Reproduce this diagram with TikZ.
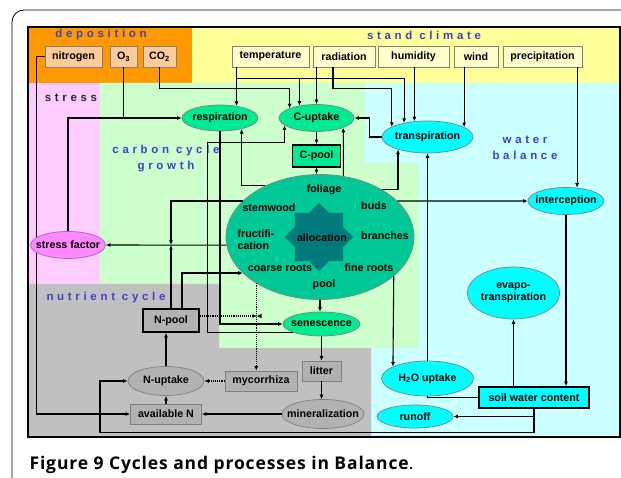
\documentclass[tikz,border=0pt]{standalone}
\usepackage{fontspec}
\setmainfont{Liberation Sans}
\newfontfamily\spacedfont[LetterSpace=32]{Liberation Sans}
\newfontfamily\captionfont[LetterSpace=5]{Open Sans}
\usetikzlibrary{arrows.meta, shapes.geometric}

\definecolor{depoorange}{RGB}{255,153,0}
\definecolor{depopeach}{RGB}{255,204,153}
\definecolor{climyellow}{RGB}{255,255,153}
\definecolor{climpale}{RGB}{255,255,204}
\definecolor{stressbg}{RGB}{255,204,255}
\definecolor{carbbg}{RGB}{204,255,204}
\definecolor{waterbg}{RGB}{204,255,255}
\definecolor{nutrbg}{RGB}{192,192,192}
\definecolor{procgreen}{RGB}{0,235,145}
\definecolor{growthgreen}{RGB}{0,200,150}
\definecolor{allocteal}{RGB}{0,122,122}
\definecolor{watercyan}{RGB}{0,255,255}
\definecolor{nutrgray}{RGB}{178,178,178}
\definecolor{stressmagenta}{RGB}{255,136,255}
\definecolor{stressline}{RGB}{160,100,200}
\definecolor{labelblue}{RGB}{64,64,200}
\definecolor{labeldark}{RGB}{40,40,50}
\definecolor{nodeborder}{RGB}{128,128,128}

\newcommand{\boxfont}{\fontsize{10.7}{12}\selectfont\bfseries}
\newcommand{\regionfont}{\spacedfont\fontsize{11.5}{16}\selectfont\bfseries}

\tikzset{%
  >={Latex[width=4pt,length=4.5pt]},
  % Specifications for style of nodes:
            base/.style = {draw=nodeborder, line width=0.7pt, font=\boxfont,
                           text centered, inner sep=1pt},
         nowidth/.style = {execute at begin node={\hbox to 0pt\bgroup\hss},
                           execute at end node={\hss\egroup}},
         depobox/.style = {base, rectangle, fill=depopeach, minimum height=21pt},
         climbox/.style = {base, rectangle, fill=climpale, minimum height=21pt},
        stockbox/.style = {base, rectangle, draw=black, line width=1.6pt},
         carbbox/.style = {stockbox, fill=procgreen},
           proc/.style = {base, ellipse, inner sep=0pt, nowidth},
        carbproc/.style = {proc, fill=procgreen},
       waterproc/.style = {proc, fill=watercyan},
        nutrproc/.style = {proc, fill=nutrgray},
         nutrbox/.style = {base, rectangle, fill=nutrgray},
      growthtext/.style = {font=\boxfont, inner sep=0pt},
          region/.style = {font=\regionfont, inner sep=0pt, align=center},
           nflow/.style = {densely dotted},
}

\begin{document}
\begin{tikzpicture}[x=1pt, y=-1pt, line width=1.1pt]
  \useasboundingbox (0,0) rectangle (621,478);
  % page frame and caption
  \draw[line width=0.8pt, rounded corners=12pt] (12,478) -- (12,10) -- (621,10);
  \node (caption)		[anchor=base west, inner sep=0pt, font=\captionfont\fontsize{17.5}{20}\selectfont]
                        at (29,469) {\textbf{Figure 9 Cycles and processes in Balance}.};

  % Specification of regions
  \fill[depoorange]	(29,28) rectangle (192,83);
  \fill[climyellow]	(192,28) rectangle (619,83);
  \fill[stressbg]	(29,83) rectangle (100,284);
  \fill[carbbg]		(100,83) rectangle (365,163) (100,163) rectangle (419,284) (219,284) rectangle (419,348);
  \fill[waterbg]	(365,83) rectangle (619,163) (419,163) rectangle (619,348) (371,348) rectangle (619,436);
  \fill[nutrbg]		(29,284) rectangle (219,348) (29,348) rectangle (371,436);
  \draw[line width=2pt] (28,27) rectangle (620,437);

  \node (ldepo)			[region, text=labelblue] at (101,35) {deposition};
  \node (lclimate)		[region, text=labelblue] at (424,35) {stand climate};
  \node (lstress)		[region, text=labeldark] at (71,98) {stress};
  \node (lcarbon)		[region, text=labelblue] at (166,159) {carbon cycle\\growth};
  \node (lwater)		[region, text=labelblue] at (525,148) {water\\balance};
  \node (lnutrient)		[region, text=labelblue] at (106,298) {nutrient cycle};

  % Specification of nodes (position, etc.)
  \node (nitrogen)		[depobox, minimum width=57pt] at (73.5,56.5) {nitrogen};
  \node (o3)			[depobox, minimum width=27pt] at (123.5,56.5) {O\textsubscript{3}};
  \node (co2)			[depobox, minimum width=33pt] at (159.5,56.5) {CO\textsubscript{2}};
  \node (availn)		[nutrbox, minimum width=71pt, minimum height=20pt] at (166,414) {available N};
  % nitrogen deposition runs behind the stress factor
  \draw[->]				(nitrogen.west) -- ++(-8,0) |- (availn.west);

  \node (temperature)	[climbox, minimum width=77pt] at (270.5,56.5) {temperature};
  \node (radiation)		[climbox, minimum width=62pt] at (344,56.5) {radiation};
  \node (humidity)		[climbox, minimum width=71pt] at (413.5,56.5) {humidity};
  \node (wind)			[climbox, minimum width=44pt] at (476,56.5) {wind};
  \node (precipitation)	[climbox, minimum width=79pt] at (542.5,56.5) {precipitation};

  \node (respiration)	[carbproc, minimum width=76pt, minimum height=26pt] at (220,118) {respiration};
  \node (cuptake)		[carbproc, minimum width=75pt, minimum height=27pt] at (316.5,118) {C-uptake};
  \node (cpool)			[carbbox, minimum width=48pt, minimum height=22pt] at (316.5,156) {C-pool};
  \node (transpiration)	[waterproc, minimum width=91pt, minimum height=32pt] at (427.5,137) {transpiration};
  \node (growth)		[base, ellipse, fill=growthgreen, minimum width=188pt, minimum height=125pt] at (320,237) {};
  \node (alloc)			[star, star points=8, star point ratio=1.3, fill=allocteal, minimum size=68pt,
                         inner sep=0pt] at (319,237) {};
  \node (lalloc)		[growthtext] at (322,238) {allocation};
  \node (lfoliage)		[growthtext] at (324,190) {foliage};
  \node (lstemwood)		[growthtext] at (269,208) {stemwood};
  \node (lbuds)			[growthtext] at (374,206) {buds};
  \node (lfruct)		[growthtext, anchor=west, align=left] at (237,240) {fructifi-\\cation};
  \node (lbranches)		[growthtext] at (385,236) {branches};
  \node (lcoarse)		[growthtext] at (280,268) {coarse roots};
  \node (lfine)			[growthtext] at (369,268) {fine roots};
  \node (lpool)			[growthtext] at (324,285) {pool};
  \node (stress)		[proc, fill=stressmagenta, draw=stressline, minimum width=75pt, minimum height=27pt]
                        at (68,245) {stress factor};
  \node (senescence)	[carbproc, minimum width=77pt, minimum height=24pt] at (321.5,324) {senescence};

  \node (interception)	[waterproc, minimum width=76pt, minimum height=27pt] at (566,201) {interception};
  \node (evapo)			[base, ellipse, inner sep=0pt, align=center, fill=watercyan, minimum width=91pt,
                         minimum height=52pt] at (513.5,293) {evapo-\\transpiration};
  \node (h2o)			[waterproc, minimum width=92pt, minimum height=35pt] at (427.5,378.5) {H\textsubscript{2}O uptake};
  \node (soil)			[stockbox, fill=watercyan, minimum width=110pt, minimum height=21pt] at (534,397.5) {soil water content};
  \node (runoff)		[waterproc, minimum width=76pt, minimum height=23pt] at (415,416.5) {runoff};

  \node (npool)			[stockbox, fill=nutrgray, minimum width=56pt, minimum height=23pt] at (171,320.5) {N-pool};
  \node (litter)		[nutrbox, minimum width=39pt, minimum height=20pt] at (321.5,371) {litter};
  \node (mycorrhiza)	[nutrbox, minimum width=72pt, minimum height=20pt] at (261,381) {mycorrhiza};
  \node (nuptake)		[nutrproc, minimum width=76pt, minimum height=29pt] at (166,381) {N-uptake};
  \node (mineral)		[nutrproc, minimum width=82pt, minimum height=29pt] at (323,414) {mineralization};

  \coordinate (cvalve) at (171,245);
  \coordinate (nvalve) at (257,316);

  % climate and deposition drivers
  \draw[->]				(stress.north) |- (respiration.west);
  \draw					(o3.south) -- (o3.south |- respiration.west);
  \draw[->]				(co2.south) -- ++(0,21.5) -| (cuptake.160);
  \draw[->]				(respiration.36 |- temperature.south) -- (respiration.36);
  \draw[->]				(respiration.36 |- temperature.south) ++(0,11) -| (cuptake.144);
  \draw[->]				(respiration.36 |- temperature.south) ++(0,11) -| (transpiration.149);
  \draw[->]				(cuptake.north |- radiation.south) -- (cuptake.north);
  \draw[->]				(radiation.south) ++(-11,0) -- ++(0,21) -| (transpiration.164);
  \draw[->]				(transpiration.130 |- humidity.south) -- (transpiration.130);
  \draw[->]				(transpiration.15 |- wind.south) -- (transpiration.15);
  \draw[->]				(interception.50 |- precipitation.south) -- (interception.50);

  % carbon cycle
  \draw[->]				(transpiration.west) -- ++(-12.5,0) |- (cuptake.east);
  \draw[->]				(cuptake.south) -- (cpool.north);
  \draw[->]				(cpool.south) -- (cpool.south |- growth.north);
  \draw[->]				(growth.69) -- (cuptake.340);
  \draw[->]				(growth.137) -| (respiration.333);
  \draw[->]				(growth.37) -| (transpiration.203);
  \draw[->]				(respiration.south) |- (senescence.west);
  \draw[->]				(senescence.196) -| ++(-85,-190) -| (cuptake.193);
  \draw[->]				(growth.south) -- (growth.south |- senescence.north);
  \draw[->]				(growth.155) -| (cvalve);
  \draw[->]				(npool.north) -- (cvalve);
  \draw[->]				(growth.185) -- (stress.east);
  \draw[->]				(npool.north) ++(11,0) |- (growth.205);
  \draw[->]				(growth.25) -- (interception.west);

  % water balance
  \draw[->]				(growth.332) -- (h2o.161);
  \draw[->]				(h2o.north) -- (transpiration.south);
  \draw					(h2o.south) |- (soil.west);
  \draw[->]				(evapo.south |- soil.north) -- (evapo.south);
  \draw[->]				(interception.south) -- (interception.south |- soil.north);
  \draw[->]				(soil.south) |- (runoff.east);
  \draw[->]				(soil.south) -- ++(0,24) -- ++(-434,0) |- (nuptake.west);

  % nutrient cycle
  \draw[->]				(senescence.south) -- (litter.north);
  \draw[->]				(litter.south) -- (litter.south |- mineral.north);
  \draw[->]				(mineral.west) -- (availn.east);
  \draw[->]				(availn.north) -- (nuptake.south);
  \draw[->]				(nuptake.north) -- (nuptake.north |- npool.south);
  \draw[nflow, ->]		(growth.216) -- (growth.216 |- mycorrhiza.north);
  \draw[nflow, ->]		(npool.east) ++(0,-4.5) -- (nvalve);
  \fill					(nvalve) -- ++(4.5,-2.2) -- ++(0,4.4) -- cycle;
  \draw[nflow, ->]		(mycorrhiza.west) -- (nuptake.east);
\end{tikzpicture}
\end{document}
